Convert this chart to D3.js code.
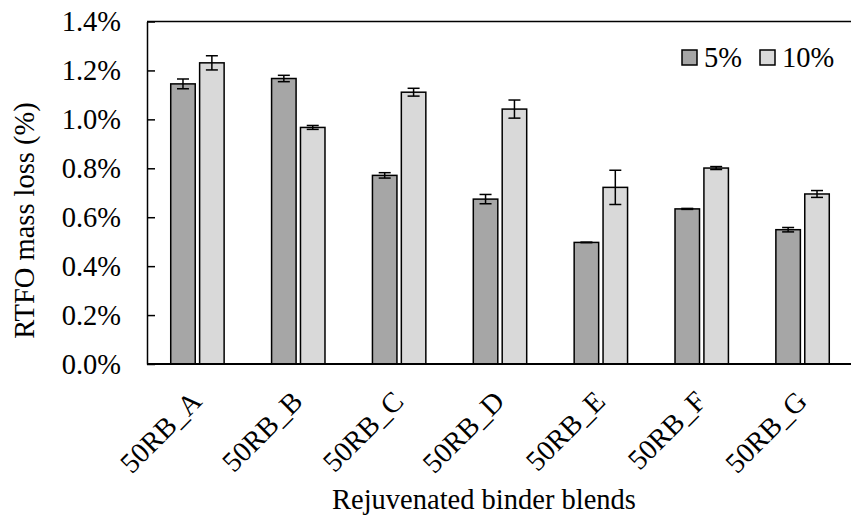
<!DOCTYPE html>
<html>
<head>
<meta charset="utf-8">
<script src="https://cdn.jsdelivr.net/npm/d3@7/dist/d3.min.js"></script>
<style>
  html, body { margin: 0; padding: 0; background: #fff; }
  svg, svg text { font-family: "Liberation Serif", "Times New Roman", serif !important; }
  svg { display: block; }
</style>
</head>
<body>
<svg id="chart" width="851" height="518"></svg>
<script>
// RTFO mass loss (%) per rejuvenated binder blend, two rejuvenator dosages
const categories = ["50RB_A", "50RB_B", "50RB_C", "50RB_D", "50RB_E", "50RB_F", "50RB_G"];
const seriesNames = ["5%", "10%"];
const loss5 = [1.145, 1.167, 0.771, 0.674, 0.497, 0.634, 0.549];
const err5 = [0.020, 0.013, 0.011, 0.019, 0.001, 0.002, 0.009];
const loss10 = [1.231, 0.967, 1.111, 1.042, 0.722, 0.801, 0.695];
const err10 = [0.029, 0.008, 0.016, 0.037, 0.070, 0.006, 0.014];
const yTicks = [0, 0.2, 0.4, 0.6, 0.8, 1.0, 1.2, 1.4];

const colors = { "5%": "#a6a6a6", "10%": "#d9d9d9" };
const fontSize = 28.5;

const svg = d3.select("#chart");
const plotLeft = 147, plotRight = 853, plotTop = 21.5, plotBottom = 364;

const x = d3.scaleBand().domain(categories).range([plotLeft, plotRight]).padding(0);
const inner = d3.scaleBand().domain(seriesNames)
  .range([-26.7, 26.7]).paddingInner(0.152).paddingOuter(0);
const y = d3.scaleLinear().domain([0, 1.4]).range([plotBottom, plotTop]);

const rows = categories.map((c, i) => ({
  cat: c,
  vals: [
    { s: "5%", v: loss5[i], e: err5[i] },
    { s: "10%", v: loss10[i], e: err10[i] }
  ]
}));

// bars
const groups = svg.append("g").selectAll("g").data(rows).join("g")
  .attr("transform", d => `translate(${x(d.cat) + x.bandwidth() / 2},0)`);

groups.selectAll("rect").data(d => d.vals).join("rect")
  .attr("x", d => inner(d.s))
  .attr("width", inner.bandwidth())
  .attr("y", d => y(d.v))
  .attr("height", d => y(0) - y(d.v))
  .attr("fill", d => colors[d.s])
  .attr("stroke", "#000")
  .attr("stroke-width", 1.5);

// error bars
const capHalf = 6;
const eb = groups.selectAll("g.err").data(d => d.vals).join("g").attr("class", "err")
  .attr("stroke", "#000").attr("stroke-width", 1.5);
eb.append("line")
  .attr("x1", d => inner(d.s) + inner.bandwidth() / 2)
  .attr("x2", d => inner(d.s) + inner.bandwidth() / 2)
  .attr("y1", d => y(d.v + d.e)).attr("y2", d => y(d.v - d.e));
[1, -1].forEach(sign => {
  eb.append("line")
    .attr("x1", d => inner(d.s) + inner.bandwidth() / 2 - capHalf)
    .attr("x2", d => inner(d.s) + inner.bandwidth() / 2 + capHalf)
    .attr("y1", d => y(d.v + sign * d.e))
    .attr("y2", d => y(d.v + sign * d.e));
});

// frame: top border and axes
svg.append("line").attr("x1", plotLeft).attr("x2", 851).attr("y1", plotTop).attr("y2", plotTop)
  .attr("stroke", "#000").attr("stroke-width", 1.5);

const yAxis = d3.axisLeft(y).tickValues(yTicks)
  .tickFormat(d => d.toFixed(1) + "%").tickSizeInner(-8).tickSizeOuter(0).tickPadding(26);
const gy = svg.append("g").attr("transform", `translate(${plotLeft},0)`).call(yAxis);
gy.select(".domain").attr("stroke", "#000").attr("stroke-width", 1.5);
gy.selectAll(".tick line").attr("stroke", "#000").attr("stroke-width", 1.5);
gy.selectAll(".tick text").attr("font-size", fontSize).attr("fill", "#000");

const xAxis = d3.axisBottom(x).tickSize(0).tickSizeOuter(0);
const gx = svg.append("g").attr("transform", `translate(0,${plotBottom})`).call(xAxis);
gx.select(".domain").attr("stroke", "#000").attr("stroke-width", 2)
  .attr("d", `M${plotLeft},0H851`);
gx.selectAll(".tick text")
  .attr("font-size", fontSize).attr("fill", "#000")
  .attr("text-anchor", "end")
  .attr("dy", 0)
  .attr("y", 0)
  .attr("transform", "translate(6,39) rotate(-45)");

// axis titles
svg.append("text")
  .attr("transform", "translate(34,220.5) rotate(-90)")
  .attr("text-anchor", "middle")
  .attr("font-size", fontSize).attr("fill", "#000")
  .text("RTFO mass loss (%)");

svg.append("text")
  .attr("x", 484).attr("y", 509)
  .attr("text-anchor", "middle")
  .attr("font-size", fontSize).attr("fill", "#000")
  .text("Rejuvenated binder blends");

// legend
const legendItems = [{ s: "5%", x: 682 }, { s: "10%", x: 760 }];
const lg = svg.append("g").selectAll("g").data(legendItems).join("g")
  .attr("transform", d => `translate(${d.x},50)`);
lg.append("rect").attr("width", 15).attr("height", 15)
  .attr("fill", d => colors[d.s]).attr("stroke", "#000").attr("stroke-width", 1.5);
lg.append("text").attr("x", 22).attr("y", 16.5)
  .attr("font-size", fontSize).attr("fill", "#000")
  .text(d => d.s);
</script>
</body>
</html>
